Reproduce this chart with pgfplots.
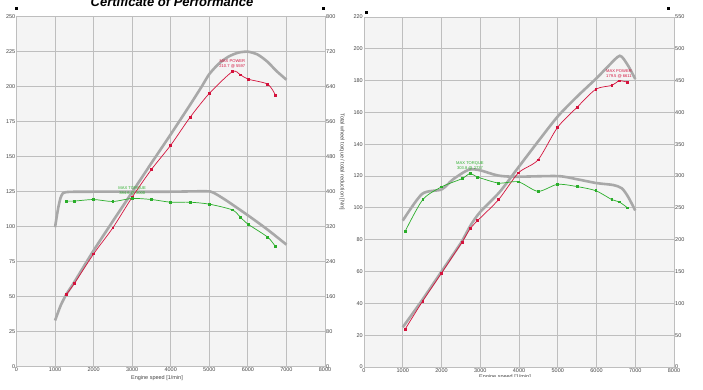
\documentclass[border=0pt]{standalone}
\usepackage{pgfplots}
\pgfplotsset{compat=1.18}
\usepackage{fontspec}
\setmainfont{Liberation Sans}
\definecolor{bgc}{HTML}{F4F4F4}
\definecolor{gridc}{HTML}{BEBEBE}
\definecolor{pgray}{HTML}{A8A8A8}
\definecolor{pred}{HTML}{D4123C}
\definecolor{pgreen}{HTML}{2AAE2A}
\definecolor{tcol}{HTML}{444444}
\tikzset{ann/.style={font=\fontsize{4.1}{4.5}\selectfont, align=center, inner sep=0pt}}
\pgfplotsset{
  base/.style={set layers, scale only axis, height=350pt, xmin=0, xmax=8000,
    xtick={0,1000,...,8000}, scaled ticks=false,
    /pgf/number format/set thousands separator={},
    /pgf/number format/assume math mode=true,
    tick label style={font=\fontsize{5.5}{6}\selectfont, text=tcol, inner sep=1pt},
    major tick length=0pt, clip=false},
  pw/.style={grid=major, grid style={draw=gridc, line width=0.9pt},
    axis line style={draw=gridc, line width=0.9pt},
    axis background/.style={fill=bgc},
    yticklabel pos=left, xticklabel pos=bottom},
  tq/.style={axis line style={draw=none}, xtick=\empty, yticklabel pos=right},
  gr/.style={pgray, line width=2.6pt, smooth, tension=0.45, on layer=pre main},
  rd/.style={pred, line width=0.7pt, smooth, tension=0.45, mark=square*, mark size=0.9pt, mark options={solid}},
  gn/.style={pgreen, line width=0.7pt, smooth, tension=0.45, mark=square*, mark size=0.9pt, mark options={solid}},
}
\begin{document}
\begin{tikzpicture}
% ---------------- left chart ----------------
\begin{axis}[base, pw, at={(16.5pt,23.3pt)}, anchor=south west, width=308.5pt,
  ymin=0, ymax=250, ytick={0,25,...,250}]
\addplot[gr] coordinates {(1000,33) (1150,44) (1300,52) (1500,60.5) (2000,83) (2500,104) (3000,124.7) (3500,145.5) (4000,166) (4500,187) (4800,200) (5000,209) (5250,216.5) (5500,221.5) (5750,224.3) (6000,225) (6250,223) (6500,218) (6750,211) (7000,205)};
\addplot[rd] coordinates {(1286,51.4) (1502,59.5) (2000,80.6) (2498,99.2) (3000,121.1) (3502,141) (3996,158.1) (4498,178) (5000,195.2) (5597,210.7) (5805,208.5) (6004,205.4) (6515,201.8) (6714,194)};
\addplot[only marks, mark=square*, mark size=1pt, black] coordinates {(0,256) (7960,256)};
\node[ann, text=pred] at (axis cs:5597,216.3) {MAX POWER\\210.7 @ 5597};
\node[ann, text=pgreen] at (axis cs:3000,125.6) {MAX TORQUE\\384.6 @ 3000};
\end{axis}
\begin{axis}[base, tq, at={(16.5pt,23.3pt)}, anchor=south west, width=308.5pt,
  ymin=0, ymax=800, ytick={0,80,...,800}]
\addplot[gr] coordinates {(1000,319) (1080,362) (1160,390) (1290,399) (2000,400) (3000,400) (4000,400) (4900,401) (5100,398) (5440,380) (6000,346) (6500,314) (7000,279)};
\addplot[gn] coordinates {(1286,378.6) (1502,378.6) (2000,382.1) (2498,377.6) (3000,384.6) (3502,382.1) (3996,376) (4498,376) (5000,371.5) (5597,358.4) (5805,341.8) (6004,325.8) (6515,296) (6714,274.6)};
\end{axis}
\node[font=\fontsize{5.5}{6}\selectfont, text=tcol] at (157pt,12pt) {Engine speed [1/min]};
\node[rotate=-90, font=\fontsize{5.5}{6}\selectfont, text=tcol] at (342pt,228pt) {Total wheel torque / total reduction [Nm]};
% ---------------- right chart ----------------
\begin{axis}[base, pw, at={(364pt,23pt)}, anchor=south west, width=310pt,
  ymin=0, ymax=220, ytick={0,20,...,220}]
\addplot[gr] coordinates {(1000,25) (1500,42) (2000,60) (2500,78) (2750,89) (3000,97.5) (3500,110) (4000,126) (4500,142) (5000,157.5) (5500,170) (6000,181.5) (6300,189) (6600,195.6) (6800,190) (7000,181)};
\addplot[rd] coordinates {(1060,23.7) (1516,41.5) (2000,59) (2530,78.5) (2737,86.9) (2935,92.1) (3476,105.3) (3984,122) (4491,130.2) (4991,150.5) (5500,163.3) (5983,174.6) (6397,177) (6586,179.9) (6802,179)};
\addplot[only marks, mark=square*, mark size=1pt, black] coordinates {(52,223) (7845,225.8)};
\node[ann, text=pred] at (axis cs:6580,184.3) {MAX POWER\\179.5 @ 6611};
\node[ann, text=pgreen] at (axis cs:2735,126.4) {MAX TORQUE\\303.8 @ 2737};
\end{axis}
\begin{axis}[base, tq, at={(364pt,23pt)}, anchor=south west, width=310pt,
  ymin=0, ymax=550, ytick={0,50,...,550}]
\addplot[gr] coordinates {(1000,230) (1500,272) (2000,279) (2300,295) (2700,310) (3000,309) (3450,301) (3900,299) (5000,300) (5500,295) (6000,289) (6430,286) (6650,281) (6810,268) (7000,246)};
\addplot[gn] coordinates {(1060,213) (1516,263) (2000,283) (2530,296) (2737,304) (2935,298.5) (3476,289) (3984,291) (4491,276) (4991,287) (5500,283.5) (5983,277) (6397,263) (6586,259.5) (6802,250)};
\end{axis}
\begin{scope}
\clip (400pt,13pt) rectangle (620pt,22pt);
\node[font=\fontsize{5.5}{6}\selectfont, text=tcol] at (505pt,13pt) {Engine speed [1/min]};
\end{scope}
\node[anchor=base, font=\fontsize{13}{14}\selectfont\bfseries\itshape] at (172pt,383.5pt) {Certificate of Performance};
\pgfresetboundingbox
\path[use as bounding box] (0pt,0pt) rectangle (703pt,390pt);
\end{tikzpicture}
\end{document}
